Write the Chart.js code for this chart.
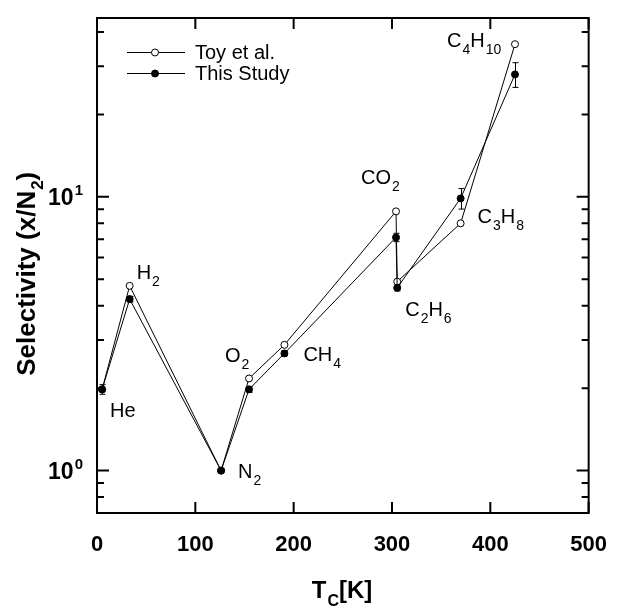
<!DOCTYPE html>
<html>
<head>
<meta charset="utf-8">
<script src="https://cdn.jsdelivr.net/npm/chart.js@4.4.1/dist/chart.umd.min.js"></script>
<style>
  html, body { margin: 0; padding: 0; background: #fff; }
  canvas { display: block; }
</style>
</head>
<body>
<canvas id="myChart" width="626" height="613"></canvas>
<script>
// gases, critical temperature (K) and selectivity vs N2
const gases = ['He', 'H2', 'N2', 'O2', 'CH4', 'CO2', 'C2H6', 'C3H8', 'C4H10'];
const tc = [5.2, 33.2, 126.2, 154.6, 190.6, 304.1, 305.3, 369.8, 425.1];
const toyEtAl = [1.98, 4.73, 1.0, 2.17, 2.88, 8.85, 4.9, 8.0, 36.1];
const thisStudy = [1.98, 4.23, 1.0, 1.98, 2.68, 7.11, 4.65, 9.87, 28.0];
const thisStudyErr = [0.08, 0.1, 0, 0.05, 0.06, 0.25, 0.12, 0.85, 2.9];

const xTicks = [0, 100, 200, 300, 400, 500];
const yMajor = [1, 10];
const yMinor = [0.7, 0.8, 0.9, 2, 3, 4, 5, 6, 7, 8, 9, 20, 30, 40];

// label text split in [normal, subscript] parts
const gasLabels = {
  He: [['He', '']], H2: [['H', '2']], N2: [['N', '2']], O2: [['O', '2']],
  CH4: [['CH', '4']], CO2: [['CO', '2']], C2H6: [['C', '2'], ['H', '6']],
  C3H8: [['C', '3'], ['H', '8']], C4H10: [['C', '4'], ['H', '10']]
};
// where each label sits relative to its point: [dx, dy, which series]
const labelOffsets = {
  He: [8, 28, 1], H2: [7, -7, 0], N2: [17, 7, 1], O2: [-24, -16, 0],
  CH4: [19, 8, 1], CO2: [-35, -27, 0], C2H6: [8, 28, 1],
  C3H8: [17, 0, 0], C4H10: [-68, 3, 0]
};

const FONT = '"Liberation Sans", Arial, sans-serif';

function pts(ys) {
  return tc.map((t, i) => ({ x: t, y: ys[i] }));
}

// draw text with subscript parts, returns end x
function subText(ctx, parts, x, y, size, bold, subSize, subDrop) {
  const w = bold ? 'bold ' : '';
  for (const [txt, sub] of parts) {
    ctx.font = w + size + 'px ' + FONT;
    ctx.fillText(txt, x, y);
    x += ctx.measureText(txt).width;
    if (sub) {
      ctx.font = w + subSize + 'px ' + FONT;
      ctx.fillText(sub, x + 1, y + subDrop);
      x += ctx.measureText(sub).width + 1;
    }
  }
  return x;
}

const extras = {
  id: 'extras',
  afterDatasetsDraw(chart) {
    const ctx = chart.ctx;
    const xs = chart.scales.x, ys = chart.scales.y;
    // error bars for this study
    ctx.save();
    ctx.strokeStyle = '#000';
    ctx.lineWidth = 1;
    thisStudy.forEach((v, i) => {
      const e = thisStudyErr[i];
      if (!e) return;
      const px = Math.round(xs.getPixelForValue(tc[i])) + 0.5;
      const top = ys.getPixelForValue(v + e);
      const bot = ys.getPixelForValue(v - e);
      ctx.beginPath();
      ctx.moveTo(px, top); ctx.lineTo(px, bot);
      ctx.moveTo(px - 3, top); ctx.lineTo(px + 3, top);
      ctx.moveTo(px - 3, bot); ctx.lineTo(px + 3, bot);
      ctx.stroke();
    });
    ctx.restore();
  },
  afterDraw(chart) {
    const ctx = chart.ctx;
    const a = chart.chartArea;
    const xs = chart.scales.x, ys = chart.scales.y;
    ctx.save();
    ctx.strokeStyle = '#000';
    ctx.fillStyle = '#000';
    ctx.lineWidth = 2;
    ctx.strokeRect(a.left, a.top, a.right - a.left, a.bottom - a.top);

    // inward ticks
    ctx.beginPath();
    xTicks.forEach(v => {
      const p = xs.getPixelForValue(v);
      ctx.moveTo(p, a.bottom); ctx.lineTo(p, a.bottom - 11);
      ctx.moveTo(p, a.top); ctx.lineTo(p, a.top + 11);
    });
    yMajor.forEach(v => {
      const p = ys.getPixelForValue(v);
      ctx.moveTo(a.left, p); ctx.lineTo(a.left + 12, p);
      ctx.moveTo(a.right, p); ctx.lineTo(a.right - 12, p);
    });
    yMinor.forEach(v => {
      const p = ys.getPixelForValue(v);
      ctx.moveTo(a.left, p); ctx.lineTo(a.left + 7, p);
      ctx.moveTo(a.right, p); ctx.lineTo(a.right - 7, p);
    });
    ctx.stroke();

    // y tick labels 10^0, 10^1
    yMajor.forEach(v => {
      const p = ys.getPixelForValue(v);
      const exp = String(Math.round(Math.log10(v)));
      ctx.font = 'bold 15px ' + FONT;
      const ew = ctx.measureText(exp).width;
      ctx.textAlign = 'right';
      ctx.textBaseline = 'alphabetic';
      ctx.fillText(exp, a.left - 14, p - 2);
      ctx.font = 'bold 23px ' + FONT;
      ctx.fillText('10', a.left - 15 - ew, p + 8);
    });

    // axis titles
    ctx.textAlign = 'left';
    ctx.textBaseline = 'alphabetic';
    const xParts = [['T', 'C'], ['[K]', '']];
    ctx.font = 'bold 24px ' + FONT;
    const xw = ctx.measureText('T[K]').width + 14;
    subText(ctx, xParts, (a.left + a.right) / 2 - xw / 2, 598, 24, true, 16, 8);

    ctx.save();
    ctx.translate(35, 272);
    ctx.rotate(-Math.PI / 2);
    const yParts = [['Selectivity (x/N', '2'], [')', '']];
    ctx.font = 'bold 26px ' + FONT;
    const yw = ctx.measureText('Selectivity (x/N)').width + 14;
    subText(ctx, yParts, -yw / 2, 0, 26, true, 17, 8);
    ctx.restore();

    // gas labels
    ctx.fillStyle = '#000';
    gases.forEach((g, i) => {
      const [dx, dy, s] = labelOffsets[g];
      const val = s === 0 ? toyEtAl[i] : thisStudy[i];
      const px = xs.getPixelForValue(tc[i]);
      const py = ys.getPixelForValue(val);
      subText(ctx, gasLabels[g], px + dx, py + dy, 20, false, 14, 7);
    });

    // legend
    const leg = [['Toy et al.', false, 52], ['This Study', true, 73]];
    ctx.lineWidth = 1;
    leg.forEach(([txt, filled, y]) => {
      ctx.beginPath();
      ctx.moveTo(127, y + 0.5); ctx.lineTo(185, y + 0.5);
      ctx.stroke();
      ctx.beginPath();
      ctx.arc(155, y + 0.5, 3.5, 0, Math.PI * 2);
      ctx.fillStyle = filled ? '#000' : '#fff';
      ctx.fill();
      ctx.stroke();
      ctx.fillStyle = '#000';
      ctx.font = '20px ' + FONT;
      ctx.textBaseline = 'middle';
      ctx.fillText(txt, 195, y + 1);
    });
    ctx.restore();
  }
};

const config = {
  type: 'line',
  data: {
    datasets: [
      {
        label: 'Toy et al.',
        data: pts(toyEtAl),
        borderColor: '#000',
        borderWidth: 1,
        backgroundColor: '#fff',
        pointBackgroundColor: '#fff',
        pointBorderColor: '#000',
        pointBorderWidth: 1,
        pointRadius: 3.5,
        order: 2
      },
      {
        label: 'This Study',
        data: pts(thisStudy),
        borderColor: '#000',
        borderWidth: 1,
        backgroundColor: '#000',
        pointBackgroundColor: '#000',
        pointBorderColor: '#000',
        pointBorderWidth: 1,
        pointRadius: 3.5,
        order: 1
      }
    ]
  },
  options: {
    responsive: false,
    animation: false,
    layout: { padding: { left: 0, right: 22, top: 18, bottom: 0 } },
    plugins: { legend: { display: false }, tooltip: { enabled: false } },
    elements: { line: { tension: 0 } },
    scales: {
      x: {
        type: 'linear',
        min: 0, max: 500,
        grid: { display: false, drawTicks: false },
        border: { display: false },
        ticks: {
          stepSize: 100,
          padding: 19,
          color: '#000',
          font: { family: FONT, size: 22, weight: 'bold' }
        },
        afterFit: s => { s.height = 100; }
      },
      y: {
        type: 'logarithmic',
        min: 0.7, max: 45,
        grid: { display: false, drawTicks: false },
        border: { display: false },
        ticks: { display: false },
        afterFit: s => { s.width = 97; }
      }
    }
  },
  plugins: [extras]
};

const myChart = new Chart(document.getElementById('myChart'), config);
</script>
</body>
</html>
